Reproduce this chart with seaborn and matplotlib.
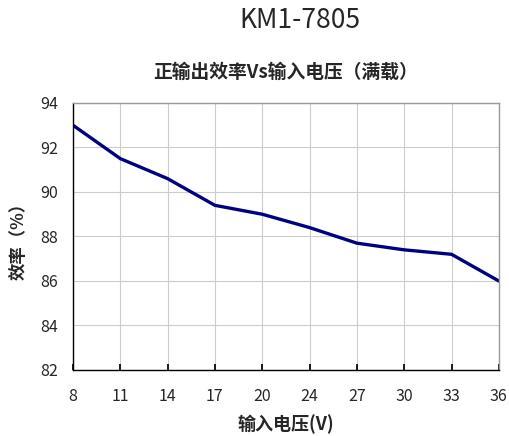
import numpy as np
import pandas as pd
import matplotlib
matplotlib.use("Agg")
import matplotlib.pyplot as plt
import seaborn as sns

# Datos
voltaje = ["8", "11", "14", "17", "20", "24", "27", "30", "33", "36"]
eficiencia = [93.0, 91.5, 90.6, 89.4, 89.0, 88.4, 87.7, 87.4, 87.2, 86.0]
y_ticks = [82, 84, 86, 88, 90, 92, 94]

sns.set_theme(style="whitegrid")
plt.rcParams['font.family'] = ['Noto Sans CJK SC', 'DejaVu Sans']

df = pd.DataFrame({'Voltaje': voltaje, 'Eficiencia': eficiencia})

fig = plt.figure(figsize=(5.09, 4.36), dpi=100)
ax = fig.add_axes([0.1434, 0.1514, 0.8366, 0.6124])

sns.lineplot(data=df, x='Voltaje', y='Eficiencia', ax=ax, color='#000080', linewidth=2.4)

ax.set_xlim(0, len(voltaje) - 1)
ax.set_ylim(82, 94)
ax.set_yticks(y_ticks)
ax.set_xticks(range(len(voltaje)))
ax.set_xticklabels(voltaje)

ax.grid(True, color='#cccccc', linewidth=0.8)
for lado in ['top', 'right']:
    ax.spines[lado].set_color('#999999')
    ax.spines[lado].set_linewidth(1.0)
for lado in ['left', 'bottom']:
    ax.spines[lado].set_color('black')
    ax.spines[lado].set_linewidth(1.0)

ax.tick_params(axis='x', direction='in', length=4, color='black', labelsize=11.5, pad=13, bottom=True)
ax.tick_params(axis='y', length=0, labelsize=11.5, pad=11)

ax.set_xlabel('输入电压(V)', fontsize=13, fontweight='bold', labelpad=7)
ax.set_ylabel('效率（%）', fontsize=12.5, fontweight='bold', labelpad=9)

fig.text(0.59, 0.953, 'KM1-7805', ha='center', va='center', fontsize=19, fontweight='medium')
fig.text(0.56, 0.835, '正输出效率Vs输入电压（满载）', ha='center', va='center',
         fontsize=13.5, fontweight='bold')

fig.savefig('out.png', dpi=100)
